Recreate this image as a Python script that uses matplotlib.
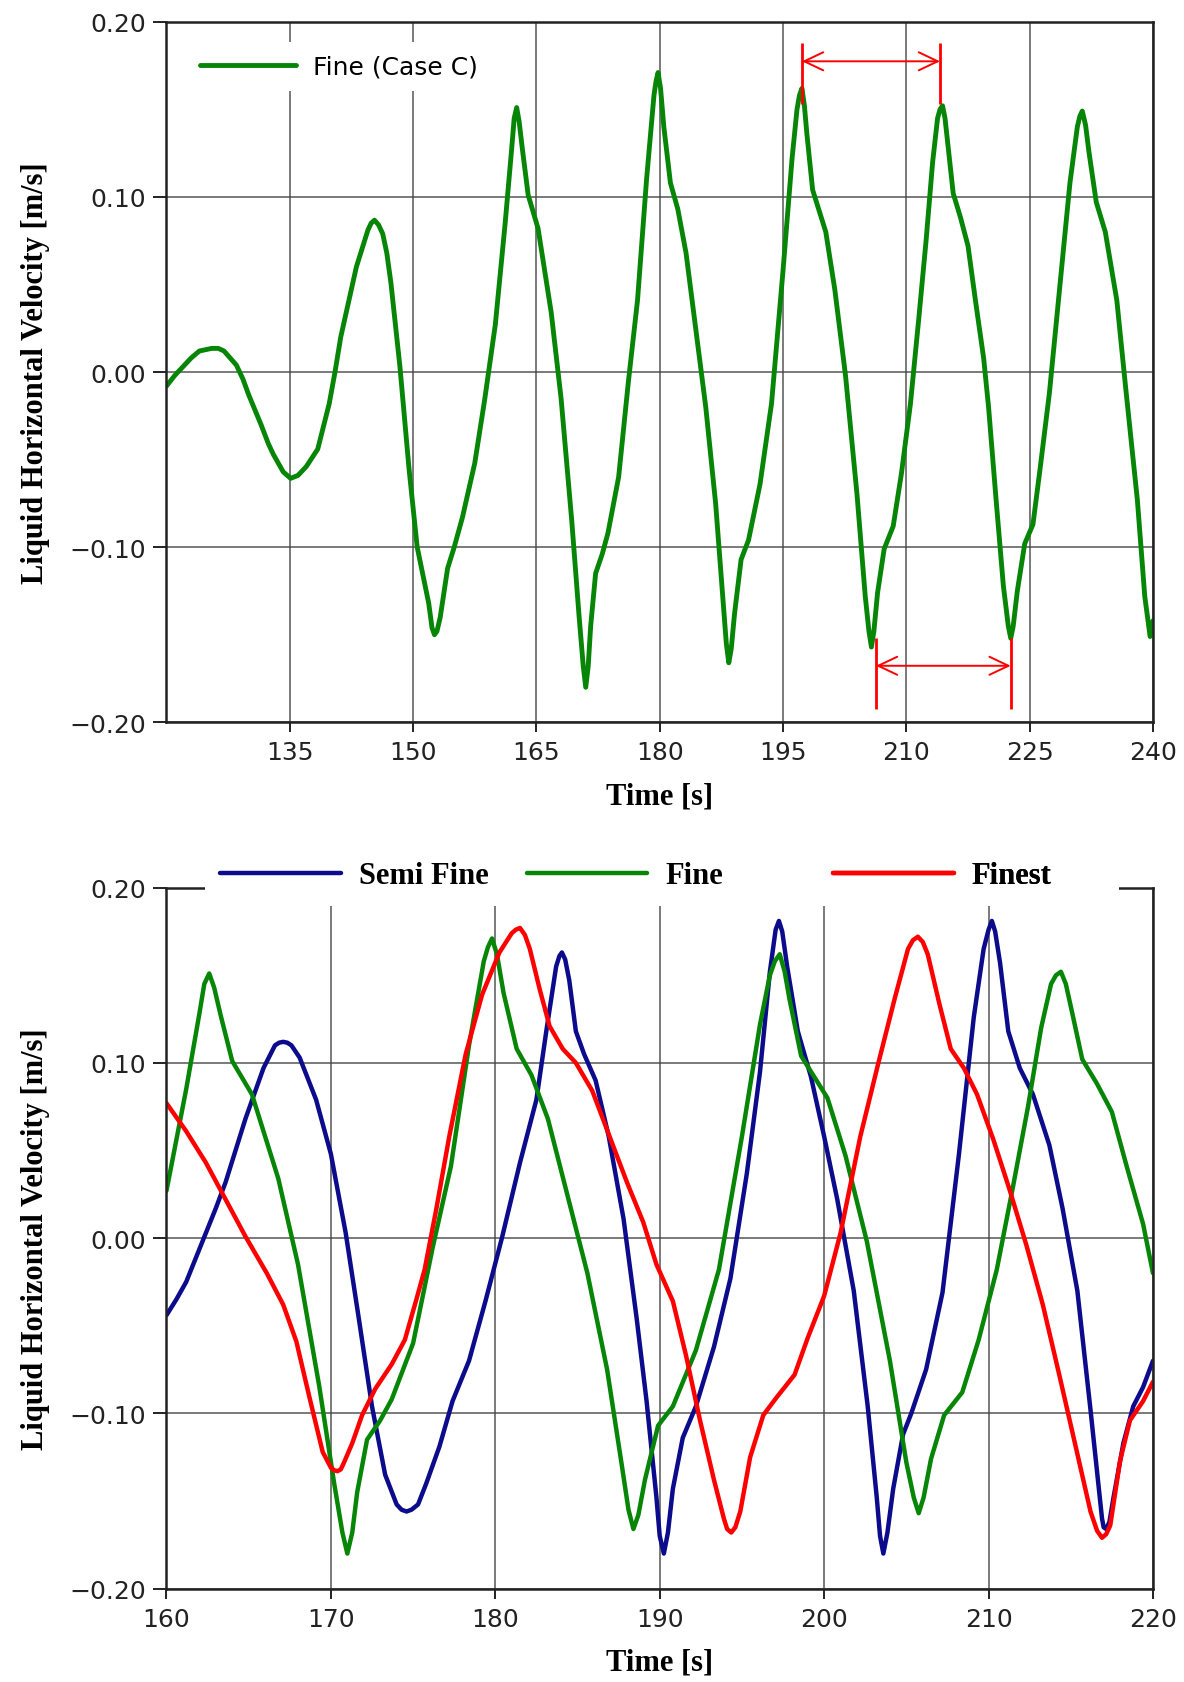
'''
Liquid horizontal velocity at the probe, grid study
Top: Fine grid (Case C) over the whole run
Bottom: Semi Fine / Fine / Finest from 160 s to 220 s
'''
#Imports numpy and matplot
import numpy as np
import matplotlib.pyplot as plt
from matplotlib.patches import Rectangle
from matplotlib.ticker import FuncFormatter

#time [s] and velocity [m/s]
fine_t = [120.0, 121.0, 122.0, 123.0, 124.0, 125.5, 126.3, 127.0, 128.5, 129.3,
          130.0, 131.5, 132.4, 133.0, 134.2, 135.1, 136.0, 137.0, 138.4, 139.8,
          140.5, 141.2, 142.2, 143.1, 144.5, 144.9, 145.3, 145.8, 146.3, 146.8,
          147.3, 148.4, 149.5, 150.5, 151.9, 152.3, 152.6, 152.9, 153.3, 154.2,
          155.0, 156.0, 157.5, 158.7, 160.0, 161.2, 162.0, 162.3, 162.6, 162.9,
          163.3, 164.0, 165.2, 166.8, 168.0, 169.3, 170.2, 170.7, 171.0, 171.3,
          171.6, 172.2, 173.0, 173.7, 175.0, 176.2, 177.3, 178.4, 179.3, 179.55,
          179.8, 180.1, 180.5, 181.3, 182.2, 183.2, 184.4, 185.6, 186.8, 187.7,
          188.1, 188.4, 188.7, 189.1, 189.9, 190.8, 192.2, 193.6, 195.0, 196.1,
          196.7, 197.0, 197.3, 197.6, 197.9, 198.6, 199.4, 200.2, 201.3, 202.6,
          204.0, 205.0, 205.45, 205.75, 206.05, 206.5, 207.3, 208.4, 209.4, 210.5,
          211.5, 212.4, 213.2, 213.8, 214.1, 214.4, 214.7, 215.1, 215.7, 216.6,
          217.5, 218.4, 219.4, 220.0, 220.9, 221.8, 222.4, 222.7, 223.0, 223.5,
          224.4, 225.4, 226.3, 227.4, 228.5, 229.9, 230.8, 231.1, 231.4, 231.8,
          232.2, 233.1, 234.2, 235.6, 236.7, 238.1, 239.0, 239.65, 240.0]
fine_v = [-0.008, -0.002, 0.003, 0.008, 0.012, 0.0135, 0.0135, 0.012, 0.004, -0.004,
          -0.013, -0.030, -0.041, -0.047, -0.057, -0.0607, -0.059, -0.054, -0.044, -0.018,
          0.000, 0.020, 0.041, 0.060, 0.081, 0.085, 0.0867, 0.084, 0.079, 0.068,
          0.051, 0.003, -0.055, -0.100, -0.132, -0.146, -0.150, -0.148, -0.140, -0.112,
          -0.100, -0.083, -0.052, -0.016, 0.027, 0.085, 0.128, 0.145, 0.151, 0.143,
          0.127, 0.101, 0.082, 0.034, -0.015, -0.085, -0.140, -0.168, -0.180, -0.168,
          -0.145, -0.115, -0.104, -0.092, -0.060, -0.005, 0.041, 0.110, 0.158, 0.166,
          0.171, 0.162, 0.140, 0.108, 0.093, 0.068, 0.024, -0.020, -0.075, -0.130,
          -0.155, -0.166, -0.158, -0.138, -0.107, -0.096, -0.064, -0.018, 0.058, 0.122,
          0.150, 0.158, 0.162, 0.152, 0.136, 0.104, 0.092, 0.080, 0.047, -0.002,
          -0.070, -0.128, -0.148, -0.157, -0.148, -0.126, -0.101, -0.088, -0.058, -0.018,
          0.030, 0.075, 0.120, 0.145, 0.150, 0.152, 0.145, 0.128, 0.102, 0.088,
          0.072, 0.041, 0.008, -0.020, -0.072, -0.122, -0.145, -0.152, -0.145, -0.125,
          -0.098, -0.087, -0.054, -0.012, 0.041, 0.108, 0.140, 0.146, 0.149, 0.141,
          0.126, 0.097, 0.080, 0.041, -0.010, -0.073, -0.128, -0.151, -0.142]

semi_t = [160.0, 160.6, 161.2, 162.4, 163.0, 163.6, 164.8, 165.9, 166.6, 166.85,
          167.1, 167.35, 167.6, 168.1, 169.1, 170.0, 170.9, 171.7, 172.5, 173.3,
          174.0, 174.3, 174.6, 174.9, 175.3, 175.8, 176.6, 177.4, 178.4, 179.4,
          180.4, 181.5, 182.5, 183.1, 183.7, 183.9, 184.05, 184.25, 184.5, 184.9,
          185.4, 186.1, 186.9, 187.8, 188.6, 189.2, 189.8, 190.0, 190.25, 190.5,
          190.8, 191.4, 192.2, 193.3, 194.3, 195.3, 196.1, 196.7, 197.05, 197.25,
          197.45, 197.75, 198.4, 199.2, 200.0, 200.8, 201.8, 202.65, 203.2, 203.4,
          203.6, 203.85, 204.2, 204.8, 205.3, 206.2, 207.2, 208.2, 209.1, 209.7,
          210.0, 210.2, 210.4, 210.7, 211.2, 211.9, 212.7, 213.7, 214.5, 215.4,
          216.2, 216.9, 217.0, 217.15, 217.35, 217.6, 218.2, 218.8, 219.4, 220.0]
semi_v = [-0.044, -0.035, -0.025, 0.003, 0.017, 0.032, 0.068, 0.097, 0.110, 0.1115,
          0.112, 0.1115, 0.110, 0.103, 0.079, 0.048, 0.003, -0.046, -0.096, -0.135,
          -0.152, -0.155, -0.156, -0.155, -0.152, -0.140, -0.119, -0.093, -0.070, -0.036,
          0.000, 0.043, 0.079, 0.118, 0.155, 0.161, 0.163, 0.159, 0.147, 0.118,
          0.105, 0.090, 0.058, 0.011, -0.046, -0.093, -0.148, -0.170, -0.180, -0.168,
          -0.143, -0.114, -0.096, -0.062, -0.023, 0.037, 0.095, 0.152, 0.176, 0.181,
          0.175, 0.155, 0.118, 0.092, 0.058, 0.022, -0.030, -0.096, -0.148, -0.170,
          -0.180, -0.168, -0.143, -0.112, -0.100, -0.075, -0.031, 0.048, 0.126, 0.165,
          0.176, 0.181, 0.175, 0.157, 0.118, 0.097, 0.082, 0.053, 0.017, -0.030,
          -0.098, -0.160, -0.165, -0.166, -0.162, -0.148, -0.117, -0.096, -0.085, -0.070]

finest_t = [160.0, 161.2, 162.4, 163.6, 164.8, 166.1, 167.1, 167.9, 168.7, 169.5,
            170.0, 170.2, 170.4, 170.6, 170.8, 171.3, 171.9, 172.7, 173.7, 174.5,
            175.2, 175.7, 176.4, 177.2, 178.2, 179.2, 180.25, 181.0, 181.25, 181.5,
            181.8, 182.1, 182.7, 183.3, 184.1, 184.9, 185.9, 186.95, 188.0, 189.0,
            189.8, 190.8, 191.6, 192.45, 193.3, 193.9, 194.1, 194.35, 194.6, 194.9,
            195.5, 196.3, 197.1, 198.2, 199.0, 200.0, 201.0, 202.2, 203.3, 204.3,
            205.1, 205.4, 205.7, 206.0, 206.3, 207.0, 207.7, 208.5, 209.3, 210.3,
            211.3, 212.3, 213.3, 214.3, 215.3, 216.2, 216.6, 216.9, 217.15, 217.4,
            218.0, 218.6, 219.4, 220.0]
finest_v = [0.077, 0.061, 0.043, 0.022, 0.001, -0.020, -0.038, -0.059, -0.091, -0.122,
            -0.131, -0.1325, -0.133, -0.132, -0.128, -0.117, -0.101, -0.086, -0.072, -0.058,
            -0.035, -0.018, 0.016, 0.058, 0.105, 0.139, 0.163, 0.174, 0.176, 0.177,
            0.173, 0.165, 0.142, 0.121, 0.108, 0.100, 0.084, 0.058, 0.032, 0.009,
            -0.015, -0.036, -0.067, -0.104, -0.138, -0.160, -0.166, -0.168, -0.165, -0.156,
            -0.125, -0.101, -0.091, -0.078, -0.057, -0.033, 0.003, 0.058, 0.100, 0.137,
            0.165, 0.170, 0.172, 0.169, 0.162, 0.134, 0.108, 0.097, 0.082, 0.056,
            0.027, -0.004, -0.038, -0.078, -0.119, -0.156, -0.167, -0.171, -0.169, -0.164,
            -0.127, -0.104, -0.093, -0.082]

#period markers drawn on the top chart (peak to peak, trough to trough)
peak_marks = [197.3, 214.1]
trough_marks = [206.3, 222.7]

GREEN = '#078507'
BLUE = '#0b0b8c'
RED = '#ff0000'
LABEL_FONT = dict(family='Liberation Serif', weight='bold', size=22)
CURVE = dict(solid_joinstyle='round', solid_capstyle='round')


def vel_fmt(y, pos):
    #two decimals with a real minus sign
    s = '%.2f' % y
    if s == '-0.00':
        s = '0.00'
    return s.replace('-', '\u2212')


def style_axes(ax, xlim, xticks):
    ax.set_xlim(xlim)
    ax.set_ylim(-0.2, 0.2)
    ax.set_xticks(xticks)
    ax.set_yticks([-0.2, -0.1, 0.0, 0.1, 0.2])
    ax.yaxis.set_major_formatter(FuncFormatter(vel_fmt))
    ax.grid(True, color='#444444', lw=1.1, alpha=0.9)
    ax.tick_params(axis='both', labelsize=18, direction='out', width=1.4, colors='#222222')
    ax.tick_params(axis='y', length=9.5, pad=5)
    ax.tick_params(axis='x', length=7, pad=6)
    for sp in ax.spines.values():
        sp.set_linewidth(1.8)
        sp.set_color('#222222')
    ax.set_xlabel('Time [s]', labelpad=12, **LABEL_FONT)
    ax.set_ylabel('Liquid Horizontal Velocity [m/s]', labelpad=14, **LABEL_FONT)


def plot_top(ax):
    ax.plot(fine_t, fine_v, color=GREEN, lw=3.5, label='Fine (Case C)', **CURVE)
    style_axes(ax, (120, 240), np.arange(135, 241, 15))

    leg = ax.legend(loc='upper left', fontsize=18, handlelength=3.84, handletextpad=0.68,
                    borderpad=0.5, borderaxespad=0.83, fancybox=False, framealpha=1.0)
    leg.get_frame().set_edgecolor('none')

    #red period markers
    ax.vlines(peak_marks, 0.1533, 0.1877, color=RED, lw=2.0, zorder=6)
    ax.annotate('', xy=(peak_marks[1], 0.1774), xytext=(peak_marks[0], 0.1774),
                arrowprops=dict(arrowstyle='<->,head_length=1.37,head_width=0.65',
                                color=RED, lw=1.4, shrinkA=0, shrinkB=0), zorder=6)
    ax.vlines(trough_marks, -0.1925, -0.152, color=RED, lw=2.0, zorder=6)
    ax.annotate('', xy=(trough_marks[1], -0.1677), xytext=(trough_marks[0], -0.1677),
                arrowprops=dict(arrowstyle='<->,head_length=1.37,head_width=0.65',
                                color=RED, lw=1.4, shrinkA=0, shrinkB=0), zorder=6)


def plot_bottom(ax):
    t = np.array(fine_t)
    v = np.array(fine_v)
    keep = (t >= 160) & (t <= 220)
    l1, = ax.plot(semi_t, semi_v, color=BLUE, lw=3.2, **CURVE)
    l2, = ax.plot(t[keep], v[keep], color=GREEN, lw=3.2, **CURVE)
    l3, = ax.plot(finest_t, finest_v, color=RED, lw=3.2, **CURVE)
    style_axes(ax, (160, 220), np.arange(160, 221, 10))

    #white band over the top spine, the legend sits on it
    ax.add_patch(Rectangle((0.0393, 0.9743), 0.9264, 0.09, transform=ax.transAxes,
                           facecolor='white', edgecolor='none', zorder=3, clip_on=False))

    #three evenly spaced legend entries
    starts = [0.0544, 0.365, 0.6755]
    for line, name, x0 in zip([l1, l2, l3], ['Semi Fine', 'Fine', 'Finest'], starts):
        leg = ax.legend([line], [name], loc='center left', bbox_to_anchor=(x0, 1.017),
                        frameon=False, borderpad=0, borderaxespad=0, handlelength=3.95,
                        handletextpad=0.59, prop=dict(family='Liberation Serif',
                                                      weight='bold', size=22))
        leg.set_zorder(6)
        ax.add_artist(leg)


def main():
    fig = plt.figure(figsize=(11.84, 16.83), dpi=100)
    ax_top = fig.add_axes([0.1406, 0.5702, 0.8332, 0.4163])
    ax_bot = fig.add_axes([0.1406, 0.0555, 0.8332, 0.4165])

    plot_top(ax_top)
    plot_bottom(ax_bot)

    fig.savefig('out.png', dpi=100, facecolor='white')


#make script importable and executables
if __name__ == "__main__":
    main()
